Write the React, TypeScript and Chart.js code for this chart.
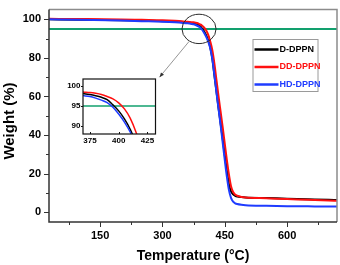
import React, { useEffect, useRef } from 'react';
import { Chart, registerables } from 'chart.js';
Chart.register(...registerables);

// ---- data ----
const temperatures = [27, 100, 200, 250, 300, 330, 350, 360, 370, 375, 380, 385, 390, 395, 400, 405, 410, 415, 420, 425, 430, 435, 440, 445, 450, 455, 460, 465, 470, 475, 480, 490, 500, 550, 600, 650, 700, 720];
const weightD = [100, 99.8, 99.5, 99.3, 99.0, 98.8, 98.6, 98.4, 98.1, 97.9, 97.6, 97.2, 96.6, 95.3, 93.8, 91.8, 89.2, 85.5, 79.5, 71, 62.5, 54, 46, 38, 29.5, 21.5, 14.5, 10.8, 9.3, 8.6, 8.2, 7.9, 7.7, 7.4, 7.1, 6.8, 6.5, 6.4];
const weightDD = [100.2, 100.1, 99.9, 99.7, 99.5, 99.2, 98.9, 98.7, 98.5, 98.4, 98.2, 97.9, 97.4, 96.8, 95.8, 94.3, 92, 88.5, 84, 77, 68.5, 60, 52, 44, 35.5, 27, 19.5, 13.5, 10.5, 9.2, 8.6, 8.0, 7.7, 7.3, 6.9, 6.5, 6.1, 6.0];
const weightHD = [100, 99.7, 99.3, 99.0, 98.7, 98.4, 98.1, 97.9, 97.6, 97.4, 97.0, 96.5, 95.9, 94.7, 93.0, 91.0, 88.5, 85, 79.5, 71, 62, 53.5, 45, 36, 27, 18.5, 11.5, 7.5, 5.5, 4.7, 4.3, 3.9, 3.7, 3.4, 3.2, 3.1, 3.0, 3.0];
const seriesNames = ['D-DPPN', 'DD-DPPN', 'HD-DPPN'];
const seriesColors = ['#000000', '#ff1010', '#1f3cff'];
const thresholdWeight = 95;
const thresholdColor = '#12a06e';

const mainXRange = [27, 720];
const mainYRange = [-5, 105];
const mainXTicks = [75, 150, 225, 300, 375, 450, 525, 600, 675];
const mainYTicks = [0, 10, 20, 30, 40, 50, 60, 70, 80, 90, 100];
const mainXLabelStep = 150;
const mainYLabelStep = 20;

const insetXRange = [369, 432];
const insetYRange = [88, 101.8];
const insetXTicks = [375, 400, 425];
const insetYTicks = [90, 95, 100];

// zoom marker (data coordinates of main chart)
const zoomEllipse = { x: 388, y: 95, rx: 41, ry: 7.6 };
const zoomArrow = { from: [364, 88.5], to: [293, 70] };

const xTitle = 'Temperature (°C)';
const yTitle = 'Weight (%)';

const FONT = '"Liberation Sans", Arial, sans-serif';

function seriesData(values: number[]) {
  return temperatures.map((t, i) => ({ x: t, y: values[i] }));
}

function buildDatasets(lineWidth: number, xr: number[]) {
  const all = [weightD, weightDD, weightHD];
  const order = [2, 1, 0];
  const ds: any[] = all.map((vals, i) => ({
    label: seriesNames[i],
    data: seriesData(vals),
    borderColor: seriesColors[i],
    backgroundColor: seriesColors[i],
    borderWidth: lineWidth,
    pointRadius: 0,
    cubicInterpolationMode: 'monotone',
    order: order[i],
  }));
  ds.push({
    label: 'threshold',
    data: [{ x: xr[0], y: thresholdWeight }, { x: xr[1], y: thresholdWeight }],
    borderColor: thresholdColor,
    borderWidth: lineWidth,
    pointRadius: 0,
    order: 5,
  });
  return ds;
}

const mainDecor = {
  id: 'mainDecor',
  afterDatasetsDraw(chart: any) {
    const { ctx, scales: { x, y } } = chart;
    ctx.save();
    const cx = x.getPixelForValue(zoomEllipse.x);
    const cy = y.getPixelForValue(zoomEllipse.y);
    const rx = Math.abs(x.getPixelForValue(zoomEllipse.x + zoomEllipse.rx) - cx);
    const ry = Math.abs(y.getPixelForValue(zoomEllipse.y + zoomEllipse.ry) - cy);
    ctx.strokeStyle = '#2a2a2a';
    ctx.lineWidth = 1;
    ctx.beginPath();
    ctx.ellipse(cx, cy, rx, ry, 0, 0, Math.PI * 2);
    ctx.stroke();
    const x1 = x.getPixelForValue(zoomArrow.from[0]);
    const y1 = y.getPixelForValue(zoomArrow.from[1]);
    const x2 = x.getPixelForValue(zoomArrow.to[0]);
    const y2 = y.getPixelForValue(zoomArrow.to[1]);
    ctx.strokeStyle = '#8a8a8a';
    ctx.lineWidth = 0.9;
    ctx.beginPath();
    ctx.moveTo(x1, y1);
    ctx.lineTo(x2, y2);
    ctx.stroke();
    const ang = Math.atan2(y2 - y1, x2 - x1);
    ctx.fillStyle = '#333';
    ctx.beginPath();
    ctx.moveTo(x2, y2);
    ctx.lineTo(x2 - 5 * Math.cos(ang - 0.4), y2 - 5 * Math.sin(ang - 0.4));
    ctx.lineTo(x2 - 5 * Math.cos(ang + 0.4), y2 - 5 * Math.sin(ang + 0.4));
    ctx.closePath();
    ctx.fill();
    ctx.restore();
  },
  afterDraw(chart: any) {
    const { ctx, chartArea: { left, right, top, bottom }, scales: { x, y } } = chart;
    ctx.save();
    ctx.lineWidth = 1.5;
    ctx.strokeStyle = '#8c8c8c';
    ctx.beginPath();
    ctx.moveTo(left, top);
    ctx.lineTo(right, top);
    ctx.lineTo(right, bottom);
    ctx.stroke();
    ctx.strokeStyle = '#333';
    ctx.beginPath();
    ctx.moveTo(left, top);
    ctx.lineTo(left, bottom);
    ctx.lineTo(right, bottom);
    ctx.stroke();
    ctx.lineWidth = 1;
    ctx.strokeStyle = '#333';
    ctx.beginPath();
    mainYTicks.forEach(v => {
      const py = Math.round(y.getPixelForValue(v)) + 0.5;
      const len = v % mainYLabelStep === 0 ? 5 : 3;
      ctx.moveTo(left - len, py);
      ctx.lineTo(left, py);
    });
    mainXTicks.forEach(v => {
      const px = Math.round(x.getPixelForValue(v)) + 0.5;
      const len = v % mainXLabelStep === 0 ? 5 : 3;
      ctx.moveTo(px, bottom);
      ctx.lineTo(px, bottom + len);
    });
    ctx.stroke();
    ctx.fillStyle = '#000';
    ctx.textAlign = 'center';
    ctx.textBaseline = 'middle';
    ctx.font = `bold 14px ${FONT}`;
    ctx.fillText(xTitle, (left + right) / 2, 256);
    ctx.save();
    ctx.font = `bold 15px ${FONT}`;
    ctx.translate(10, 121);
    ctx.rotate(-Math.PI / 2);
    ctx.fillText(yTitle, 0, 0);
    ctx.restore();
    const bx = 252.5, by = 39, bw = 65, bh = 52;
    ctx.fillStyle = '#fff';
    ctx.fillRect(bx, by, bw, bh);
    ctx.strokeStyle = '#9a9a9a';
    ctx.lineWidth = 1;
    ctx.strokeRect(bx + 0.5, by + 0.5, bw, bh);
    ctx.font = `bold 9px ${FONT}`;
    ctx.textAlign = 'left';
    seriesNames.forEach((name, i) => {
      const ly = by + 10.5 + i * 17.5;
      ctx.strokeStyle = seriesColors[i];
      ctx.lineWidth = 2.5;
      ctx.beginPath();
      ctx.moveTo(bx + 2, ly);
      ctx.lineTo(bx + 26, ly);
      ctx.stroke();
      ctx.fillStyle = seriesColors[i];
      ctx.fillText(name, bx + 27, ly);
    });
    ctx.restore();
  },
};

const insetDecor = {
  id: 'insetDecor',
  beforeDraw(chart: any) {
    const { ctx, chartArea: { left, right, top, bottom } } = chart;
    ctx.save();
    ctx.fillStyle = '#fff';
    ctx.fillRect(left, top, right - left, bottom - top);
    ctx.restore();
  },
  afterDraw(chart: any) {
    const { ctx, chartArea: { left, right, top, bottom }, scales: { x, y } } = chart;
    ctx.save();
    ctx.strokeStyle = '#111';
    ctx.lineWidth = 1.2;
    ctx.strokeRect(left, top, right - left, bottom - top);
    ctx.lineWidth = 1;
    ctx.beginPath();
    insetYTicks.forEach(v => {
      const py = Math.round(y.getPixelForValue(v)) + 0.5;
      ctx.moveTo(left - 2, py);
      ctx.lineTo(left, py);
    });
    insetXTicks.forEach(v => {
      const px = Math.round(x.getPixelForValue(v)) + 0.5;
      ctx.moveTo(px, bottom);
      ctx.lineTo(px, bottom - 2);
    });
    ctx.stroke();
    ctx.restore();
  },
};

export default function App() {
  const mainRef = useRef<HTMLCanvasElement>(null);
  const insetRef = useRef<HTMLCanvasElement>(null);

  useEffect(() => {
    const main = new Chart(mainRef.current!, {
      type: 'line',
      data: { datasets: buildDatasets(2, mainXRange) },
      options: {
        animation: false,
        responsive: false,
        maintainAspectRatio: false,
        layout: { padding: { top: 2, right: 3, left: 0, bottom: 0 } },
        plugins: { legend: { display: false }, tooltip: { enabled: false } },
        scales: {
          x: {
            type: 'linear',
            min: mainXRange[0],
            max: mainXRange[1],
            afterBuildTicks: (s: any) => { s.ticks = mainXTicks.map(v => ({ value: v })); },
            afterFit: (s: any) => { s.height = 43; },
            grid: { display: false, drawTicks: true, tickLength: 5 },
            border: { display: false },
            ticks: {
              autoSkip: false,
              maxRotation: 0,
              padding: 2,
              color: '#000',
              font: { family: FONT, size: 11, weight: 'bold' },
              callback: (v: any) => (Number(v) % mainXLabelStep === 0 ? String(v) : ''),
            },
          },
          y: {
            type: 'linear',
            min: mainYRange[0],
            max: mainYRange[1],
            afterBuildTicks: (s: any) => { s.ticks = mainYTicks.map(v => ({ value: v })); },
            afterFit: (s: any) => { s.width = 49; },
            grid: { display: false, drawTicks: true, tickLength: 5 },
            border: { display: false },
            ticks: {
              autoSkip: false,
              padding: 3,
              color: '#000',
              font: { family: FONT, size: 11, weight: 'bold' },
              callback: (v: any) => (Number(v) % mainYLabelStep === 0 ? String(v) : ''),
            },
          },
        },
      } as any,
      plugins: [mainDecor],
    });

    const inset = new Chart(insetRef.current!, {
      type: 'line',
      data: { datasets: buildDatasets(1.5, insetXRange) },
      options: {
        animation: false,
        responsive: false,
        maintainAspectRatio: false,
        layout: { padding: { top: 7, right: 4.5, left: 0, bottom: 0 } },
        plugins: { legend: { display: false }, tooltip: { enabled: false } },
        scales: {
          x: {
            type: 'linear',
            min: insetXRange[0],
            max: insetXRange[1],
            afterBuildTicks: (s: any) => { s.ticks = insetXTicks.map(v => ({ value: v })); },
            afterFit: (s: any) => { s.height = 14; },
            grid: { display: false, drawTicks: true, tickLength: 2 },
            border: { display: false },
            ticks: {
              autoSkip: false,
              maxRotation: 0,
              padding: 0,
              color: '#000',
              font: { family: FONT, size: 8, weight: 'bold' },
            },
          },
          y: {
            type: 'linear',
            min: insetYRange[0],
            max: insetYRange[1],
            afterBuildTicks: (s: any) => { s.ticks = insetYTicks.map(v => ({ value: v })); },
            afterFit: (s: any) => { s.width = 23; },
            grid: { display: false, drawTicks: true, tickLength: 2 },
            border: { display: false },
            ticks: {
              autoSkip: false,
              padding: 0.5,
              color: '#000',
              font: { family: FONT, size: 8, weight: 'bold' },
            },
          },
        },
      } as any,
      plugins: [insetDecor],
    });

    return () => {
      main.destroy();
      inset.destroy();
    };
  }, []);

  return (
    <div style={{ position: 'fixed', left: 0, top: 0, width: 340, height: 265, background: '#fff' }}>
      <canvas ref={mainRef} width={340} height={265} style={{ position: 'absolute', left: 0, top: 0, width: 340, height: 265 }} />
      <canvas ref={insetRef} width={100} height={76} style={{ position: 'absolute', left: 60, top: 72, width: 100, height: 76 }} />
    </div>
  );
}
